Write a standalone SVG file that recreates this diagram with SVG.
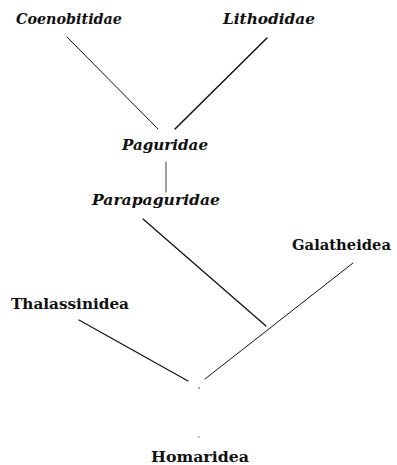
<svg xmlns="http://www.w3.org/2000/svg" width="397" height="465" viewBox="0 0 397 465">
<style>
.t{font-family:"DejaVu Serif","Liberation Serif",serif;font-weight:bold;font-size:15.5px;fill:#111}
.i{font-style:italic}
.c{stroke:#111;fill:none;stroke-linecap:round}
</style>
<rect width="397" height="465" fill="#fff"/>
<g id="connectors">
<line class="c" x1="67" y1="37" x2="158" y2="129" stroke-width="1"/>
<line class="c" x1="267" y1="38" x2="175" y2="129" stroke-width="1.5"/>
<line class="c" x1="166" y1="162" x2="166" y2="192" stroke-width="0.8"/>
<line class="c" x1="143" y1="219" x2="266" y2="326" stroke-width="1.3"/>
<line class="c" x1="353" y1="263" x2="205" y2="379" stroke-width="1"/>
<line class="c" x1="79" y1="320" x2="188" y2="381" stroke-width="1.2"/>
<circle cx="199" cy="388" r="0.8" fill="#333"/>
<circle cx="199" cy="437" r="0.7" fill="#555"/>
</g>
<g id="Coenobitidae"><text class="t i" x="16" y="24" textLength="106" lengthAdjust="spacingAndGlyphs">Coenobitidae</text></g>
<g id="Lithodidae"><text class="t i" x="223" y="24" textLength="92" lengthAdjust="spacingAndGlyphs">Lithodidae</text></g>
<g id="Paguridae"><text class="t i" x="122" y="150" textLength="86" lengthAdjust="spacingAndGlyphs">Paguridae</text></g>
<g id="Parapaguridae"><text class="t i" x="92" y="205" textLength="128" lengthAdjust="spacingAndGlyphs">Parapaguridae</text></g>
<g id="Galatheidea"><text class="t" x="292" y="250" textLength="99" lengthAdjust="spacingAndGlyphs">Galatheidea</text></g>
<g id="Thalassinidea"><text class="t" x="11" y="309" textLength="118" lengthAdjust="spacingAndGlyphs">Thalassinidea</text></g>
<g id="Homaridea"><text class="t" x="151" y="462" textLength="98" lengthAdjust="spacingAndGlyphs">Homaridea</text></g>
</svg>
